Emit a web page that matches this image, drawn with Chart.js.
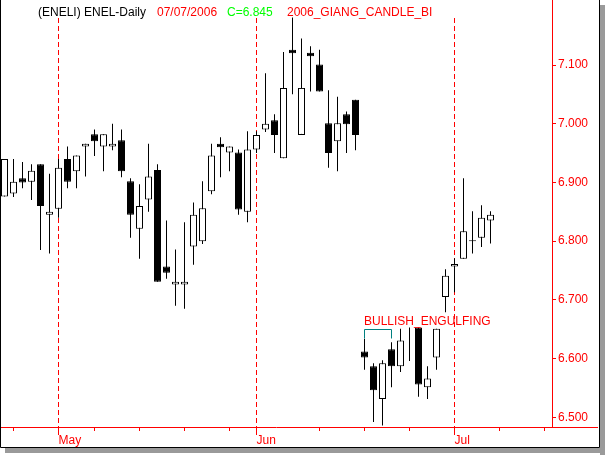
<!DOCTYPE html>
<html><head><meta charset="utf-8">
<script src="https://cdn.jsdelivr.net/npm/chart.js@4.4.1/dist/chart.umd.min.js"></script>
<style>html,body{margin:0;padding:0;background:#fff;overflow:hidden}canvas{display:block}</style>
</head><body>
<canvas id="c" width="606" height="455"></canvas>
<script>
// ---- data ----
const dates = [
 '2006-04-21','2006-04-24','2006-04-25','2006-04-26','2006-04-27','2006-04-28',
 '2006-05-02','2006-05-03','2006-05-04','2006-05-05','2006-05-08','2006-05-09','2006-05-10','2006-05-11','2006-05-12',
 '2006-05-15','2006-05-16','2006-05-17','2006-05-18','2006-05-19','2006-05-22','2006-05-23','2006-05-24','2006-05-25','2006-05-26',
 '2006-05-29','2006-05-30','2006-05-31',
 '2006-06-01','2006-06-02','2006-06-05','2006-06-06','2006-06-07','2006-06-08','2006-06-09','2006-06-12','2006-06-13','2006-06-14','2006-06-15','2006-06-16',
 '2006-06-19','2006-06-20','2006-06-21','2006-06-22','2006-06-23','2006-06-26','2006-06-27','2006-06-28','2006-06-29','2006-06-30',
 '2006-07-03','2006-07-04','2006-07-05','2006-07-06','2006-07-07'
];
const opens  = [6.876,6.881,6.907,6.901,6.931,6.845,6.855,6.940,6.919,6.961,6.982,6.961,6.961,6.972,6.902,6.821,6.871,6.921,6.757,6.726,6.726,6.791,6.800,6.885,6.966,6.951,6.951,6.850,6.956,6.990,7.006,6.941,7.126,6.981,7.121,7.101,7.001,6.970,7.016,7.041,6.612,6.587,6.531,6.616,6.587,null,6.653,6.551,6.602,6.705,6.757,6.770,6.800,6.806,6.835];
const highs  = [6.940,6.940,6.935,6.931,6.931,6.915,6.940,6.961,6.946,6.966,6.990,6.982,7.000,6.990,6.907,6.897,6.966,6.931,6.835,6.786,6.832,6.866,6.902,6.966,6.977,6.961,6.956,6.987,6.987,7.086,7.016,7.122,7.181,7.145,7.132,7.126,7.057,7.046,7.021,7.041,6.634,6.592,6.597,6.628,6.651,6.653,6.653,6.587,6.651,6.752,6.771,6.907,6.851,6.861,6.851];
const lows   = [6.876,6.875,6.890,6.870,6.785,6.779,6.840,6.890,6.890,6.910,6.945,6.919,6.955,6.909,6.806,6.770,6.850,6.731,6.736,6.690,6.685,6.760,6.795,6.880,6.909,6.919,6.845,6.832,6.950,6.986,6.950,6.941,7.050,6.981,7.055,7.055,6.925,6.919,6.950,6.955,6.581,6.492,6.486,6.551,6.577,6.596,6.535,6.531,6.581,6.679,6.713,6.770,6.779,6.790,6.796];
const closes = [6.940,6.901,6.900,6.920,6.860,6.850,6.925,6.901,6.946,6.966,6.970,6.982,6.966,6.919,6.845,6.860,6.910,6.731,6.746,6.731,6.731,6.845,6.856,6.946,6.960,6.961,6.854,6.956,6.981,7.000,6.981,7.061,7.120,7.061,7.115,7.055,6.950,7.001,6.999,6.981,6.602,6.546,6.592,6.587,6.631,null,6.556,6.566,6.651,6.741,6.761,6.817,6.800,6.840,6.845];

const priceTicks   = [6.5, 6.6, 6.7, 6.8, 6.9, 7.0, 7.1];
const monthTickIdx = [6, 28, 50];
const monthLabels  = ['May', 'Jun', 'Jul'];
const weekTickIdx  = [1, 10, 15, 20, 25, 35, 40, 45, 55, 60];
const headerTexts  = ['(ENELI) ENEL-Daily', '07/07/2006', 'C=6.845', '2006_GIANG_CANDLE_BI'];
const headerColors = ['#000000', '#ff0000', '#00ff00', '#ff0000'];
const patternText  = 'BULLISH_ENGULFING';
const patternFrom  = 40, patternTo = 43, patternLevel = 6.650;

// ---- layout constants ----
const headerX = [38, 157, 227, 287];
const FONT = '12px "Liberation Sans", Arial, sans-serif';

const idx = dates.map((d, i) => i);
const bodyData = idx.filter(i => opens[i] != null).map(i => ({x: i, y: [opens[i], closes[i]]}));
const wickData = idx.map(i => ({x: i, y: [lows[i], highs[i]]}));

const overlay = {
  id: 'overlay',
  beforeDatasetsDraw(chart) {
    const {ctx, chartArea: a, scales: {x}} = chart;
    ctx.save();
    ctx.strokeStyle = '#ff0000'; ctx.lineWidth = 1; ctx.setLineDash([5, 3]);
    monthTickIdx.forEach(i => {
      const px = x.getPixelForValue(i);
      ctx.beginPath(); ctx.moveTo(px, a.top + 18); ctx.lineTo(px, a.bottom); ctx.stroke();
    });
    ctx.restore();
  },
  afterDraw(chart) {
    const {ctx, chartArea: a, scales: {x, y}} = chart;
    ctx.save();
    // month major ticks
    ctx.strokeStyle = '#ff0000'; ctx.lineWidth = 1;
    monthTickIdx.forEach(i => {
      const px = x.getPixelForValue(i);
      ctx.beginPath(); ctx.moveTo(px, a.bottom); ctx.lineTo(px, a.bottom + 8); ctx.stroke();
    });
    // x-axis line continues under the price axis
    const by = Math.round(a.bottom) + 0.5;
    ctx.beginPath(); ctx.moveTo(a.right, by); ctx.lineTo(y.right, by); ctx.stroke();
    // header
    ctx.font = FONT; ctx.textBaseline = 'alphabetic';
    headerTexts.forEach((t, k) => { ctx.fillStyle = headerColors[k]; ctx.fillText(t, headerX[k], 16); });
    // pattern bracket + label
    const x1 = x.getPixelForValue(patternFrom), x2 = x.getPixelForValue(patternTo);
    const ly = Math.round(y.getPixelForValue(patternLevel)) + 0.5;
    ctx.strokeStyle = '#008080';
    ctx.beginPath(); ctx.moveTo(x1, ly + 9); ctx.lineTo(x1, ly); ctx.lineTo(x2, ly); ctx.lineTo(x2, ly + 9); ctx.stroke();
    ctx.fillStyle = '#ff0000';
    ctx.fillText(patternText, x1 - 0.5, ly - 4.5);
    // frame with shadow
    ctx.fillStyle = '#9a9a9a';
    ctx.fillRect(600, 5, 5, 450);
    ctx.fillRect(5, 448, 600, 5);
    ctx.strokeStyle = '#000000';
    ctx.beginPath(); ctx.moveTo(0.5, 0); ctx.lineTo(0.5, 447.5); ctx.lineTo(599.5, 447.5); ctx.lineTo(599.5, 0); ctx.stroke();
    ctx.restore();
  }
};

const isUp = c => { const r = c.raw; return r && r.y[1] >= r.y[0]; };

new Chart(document.getElementById('c'), {
  type: 'bar',
  data: {
    datasets: [
      {
        label: 'body', data: bodyData, order: 0, grouped: false,
        barThickness: 7, minBarLength: 1, borderWidth: 1, borderSkipped: false, inflateAmount: 0,
        borderColor: '#000000',
        backgroundColor: c => isUp(c) ? '#ffffff' : '#000000'
      },
      {
        label: 'wick', data: wickData, order: 1, grouped: false,
        barThickness: 1, borderWidth: 0, inflateAmount: 0, backgroundColor: '#000000'
      }
    ]
  },
  options: {
    responsive: false, animation: false, maintainAspectRatio: false,
    layout: {padding: {left: 0, top: 0, right: 8, bottom: 8}},
    plugins: {legend: {display: false}, tooltip: {enabled: false}, title: {display: false}},
    scales: {
      x: {
        type: 'linear', min: -0.5, max: 60.8333, offset: false,
        afterBuildTicks: s => { s.ticks = weekTickIdx.concat(monthTickIdx).sort((a, b) => a - b).map(v => ({value: v})); },
        afterFit: s => { s.height = 20; s.paddingLeft = 0; s.paddingRight = 0; },
        grid: {drawOnChartArea: false, offset: false, color: '#ff0000', tickLength: 4},
        border: {color: '#ff0000', width: 1},
        ticks: {
          color: '#ff0000', font: {family: '"Liberation Sans", Arial, sans-serif', size: 12},
          padding: 2, align: 'start', maxRotation: 0, autoSkip: false,
          callback: v => { const k = monthTickIdx.indexOf(v); return k >= 0 ? monthLabels[k] : ''; }
        }
      },
      y: {
        type: 'linear', position: 'right', min: 6.4835, max: 7.2107,
        afterBuildTicks: s => { s.ticks = priceTicks.map(v => ({value: v})); },
        afterFit: s => { s.width = 46; s.paddingTop = 0; s.paddingBottom = 0; },
        grid: {drawOnChartArea: false, color: '#ff0000', tickLength: 4},
        border: {color: '#ff0000', width: 1},
        ticks: {
          color: '#ff0000', font: {family: '"Liberation Sans", Arial, sans-serif', size: 12},
          padding: 2, callback: v => v.toFixed(3)
        }
      }
    }
  },
  plugins: [overlay]
});
</script>
</body></html>
